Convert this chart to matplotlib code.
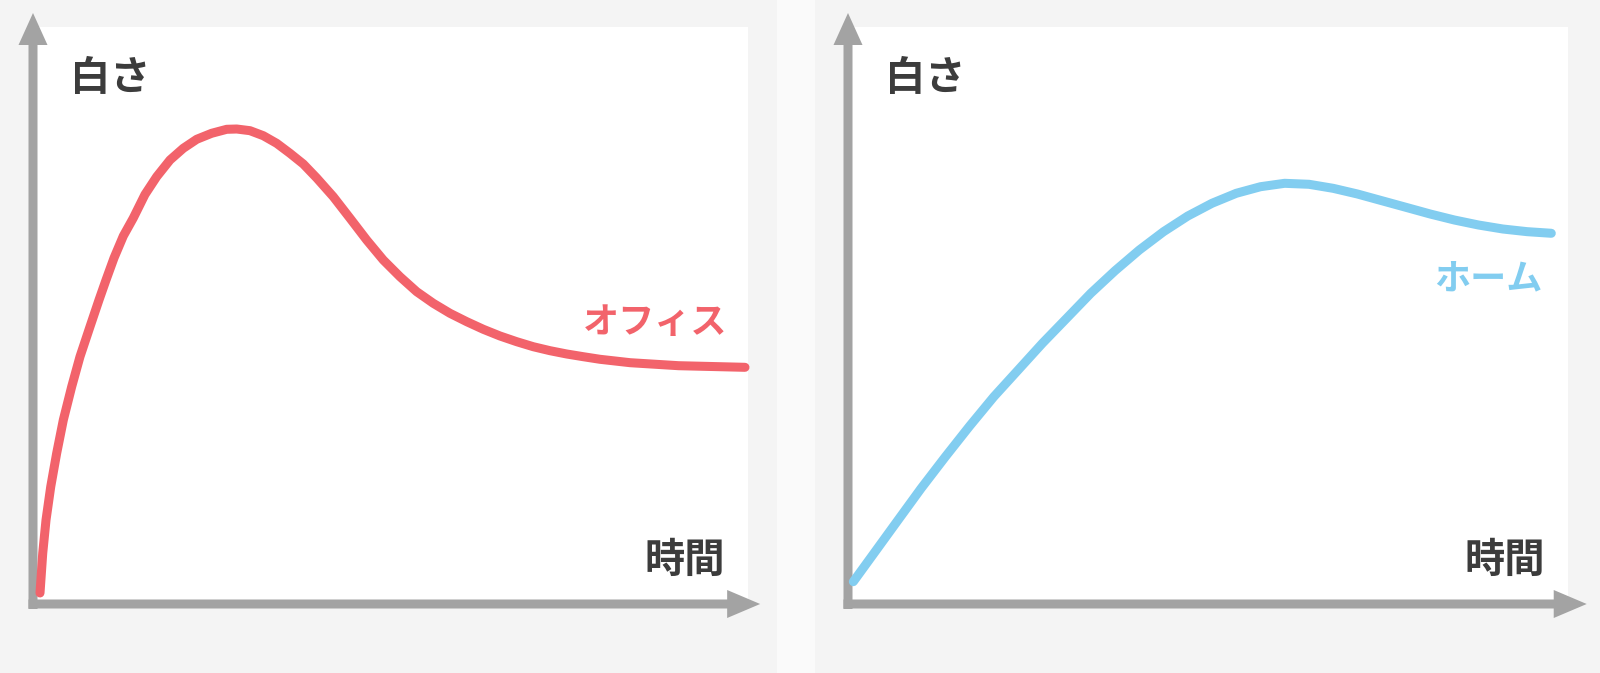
import matplotlib
matplotlib.use("Agg")
from matplotlib import pyplot as plt
from matplotlib.patches import Rectangle, FancyArrow

plt.rcParams['font.family'] = ['Noto Sans CJK JP', 'DejaVu Sans']

# オフィス (time, whiteness)
office_t = [0.98, 1.36, 1.82, 2.48, 3.31, 4.24, 5.41, 6.57, 7.97, 9.23, 10.21,
            11.33, 12.63, 14.03, 15.66, 17.30, 19.16, 21.02, 22.90, 24.99, 27.09,
            28.49, 30.35, 32.21, 34.08, 35.94, 37.80, 39.68, 42.00, 44.34, 46.67,
            48.99, 51.33, 53.66, 55.99, 58.32, 60.66, 62.98, 65.31, 67.65, 69.97,
            72.31, 74.64, 76.96, 79.30, 83.52, 90.29, 99.58]
office_w = [1.91, 8.79, 14.56, 20.33, 26.12, 31.89, 37.66, 42.86, 48.06, 52.69, 56.15,
            59.97, 63.78, 66.90, 70.97, 74.06, 76.95, 78.98, 80.54, 81.58, 82.27,
            82.32, 82.03, 81.16, 79.84, 78.11, 76.26, 73.83, 70.59, 66.85, 63.08,
            59.62, 56.72, 54.13, 52.11, 50.38, 48.93, 47.61, 46.45, 45.46, 44.59,
            43.90, 43.33, 42.86, 42.41, 41.82, 41.30, 41.02]

# ホーム (time, whiteness)
home_t = [0.74, 3.43, 6.79, 10.16, 13.53, 16.90, 20.26, 23.63, 27.00, 30.36, 33.72,
          37.10, 40.46, 43.83, 47.19, 50.56, 53.93, 57.29, 60.65, 64.03, 67.39,
          70.75, 74.13, 77.49, 80.86, 84.22, 87.58, 90.96, 94.32, 97.68]
home_w = [3.87, 8.49, 14.27, 20.05, 25.53, 30.85, 35.93, 40.55, 45.18, 49.51, 53.85,
          57.77, 61.35, 64.53, 67.24, 69.45, 71.18, 72.32, 72.91, 72.74, 72.04,
          71.06, 69.90, 68.75, 67.59, 66.55, 65.68, 64.99, 64.53, 64.25]

y_label = '白さ'
x_label = '時間'
series_names = ['オフィス', 'ホーム']
series_colors = ['#f2636b', '#82cdf0']
label_pos = [(97.1, 48.8), (96.5, 56.3)]

AXIS_GRAY = '#a3a3a3'
TEXT_GRAY = '#3c3c3c'

fig = plt.figure(figsize=(16, 6.73), dpi=100, facecolor='#fafafa')
W, H = 1600.0, 673.0

# panel backgrounds
fig.patches.append(Rectangle((0, 0), 777 / W, 1, transform=fig.transFigure,
                             facecolor='#f4f4f4', edgecolor='none', zorder=-5))
fig.patches.append(Rectangle((815 / W, 0), 1 - 815 / W, 1, transform=fig.transFigure,
                             facecolor='#f4f4f4', edgecolor='none', zorder=-5))

panels = [
    # left px of y axis, width px to right edge of white area
    (33, 715),
    (848, 720),
]
datasets = [(office_t, office_w), (home_t, home_w)]

for i, (x0, wpx) in enumerate(panels):
    ax = fig.add_axes([x0 / W, 69 / H, wpx / W, 577 / H])
    ax.set_xlim(0, 100)
    ax.set_ylim(0, 100)
    ax.set_facecolor('white')
    ax.set_xticks([])
    ax.set_yticks([])
    for sp in ax.spines.values():
        sp.set_visible(False)

    pxx = wpx / 100.0   # px per data unit in x
    pxy = 577 / 100.0   # px per data unit in y

    # y axis arrow
    ax.add_patch(FancyArrow(0, -5 / pxy, 0, (604 - 13 + 5) / pxy,
                            width=9 / pxx, head_width=29 / pxx, head_length=32 / pxy,
                            length_includes_head=True, color=AXIS_GRAY, lw=0,
                            clip_on=False, zorder=3))
    # x axis arrow
    tip = 101.7 if i == 0 else 102.6
    ax.add_patch(FancyArrow(-4.5 / pxx, 0, tip + 4.5 / pxx, 0,
                            width=9 / pxy, head_width=28 / pxy, head_length=33 / pxx,
                            length_includes_head=True, color=AXIS_GRAY, lw=0,
                            clip_on=False, zorder=3))

    t, w = datasets[i]
    ax.plot(t, w, color=series_colors[i], lw=6.5, solid_capstyle='round',
            solid_joinstyle='round', clip_on=False, zorder=4)

    ax.text(5.2, 91.0, y_label, ha='left', va='center', fontsize=29,
            fontweight='bold', color=TEXT_GRAY)
    ax.text(96.8, 7.6, x_label, ha='right', va='center', fontsize=29,
            fontweight='bold', color=TEXT_GRAY)
    lx, ly = label_pos[i]
    ax.text(lx, ly, series_names[i], ha='right', va='center', fontsize=26,
            fontweight='bold', color=series_colors[i])

fig.savefig('out.png', dpi=100, facecolor=fig.get_facecolor())
